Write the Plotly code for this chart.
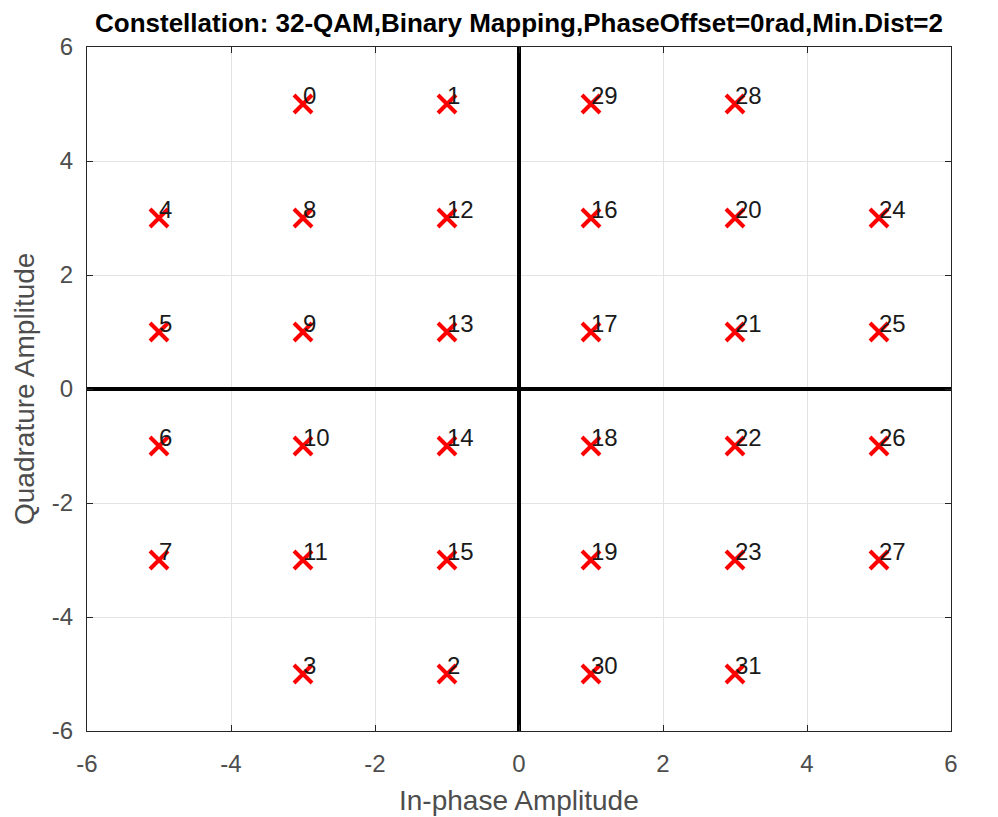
import plotly.graph_objects as go

symbol_index = list(range(32))
in_phase = [-3, -1, -1, -3, -5, -5, -5, -5, -3, -3, -3, -3, -1, -1, -1, -1,
            1, 1, 1, 1, 3, 3, 3, 3, 5, 5, 5, 5, 3, 1, 1, 3]
quadrature = [5, 5, -5, -5, 3, 1, -1, -3, 3, 1, -1, -3, 3, 1, -1, -3,
              3, 1, -1, -3, 3, 1, -1, -3, 3, 1, -1, -3, 5, 5, -5, -5]
tick_vals = [-6, -4, -2, 0, 2, 4, 6]
tick_text = ["-6", "-4", "-2", "0", "2", "4", "6"]

FONT = "Liberation Sans, Arial, Helvetica, sans-serif"
AX = "#262626"
LBL = "#4d4d4d"

fig = go.Figure()
fig.add_trace(go.Scatter(
    x=in_phase, y=quadrature, mode="markers",
    marker=dict(symbol="x-thin", size=18, line=dict(color="#ff0000", width=4)),
    showlegend=False, hoverinfo="skip"))

for i, x, y in zip(symbol_index, in_phase, quadrature):
    fig.add_annotation(x=x, y=y, text=str(i), showarrow=False,
                       xanchor="left", yanchor="middle", xshift=-2, yshift=9,
                       font=dict(family=FONT, size=24, color="#1a1a1a"))

axis_common = dict(
    range=[-6, 6], tickvals=tick_vals, ticktext=tick_text,
    ticks="inside", ticklen=6, tickcolor=AX,
    showgrid=True, gridcolor="#e3e3e3", gridwidth=1,
    zeroline=True, zerolinecolor="#000000", zerolinewidth=3.5,
    showline=True, linecolor=AX, linewidth=1, mirror="ticks",
    tickfont=dict(family=FONT, size=24, color=LBL),
)

fig.update_xaxes(**axis_common, ticklabelstandoff=11)
fig.update_yaxes(**axis_common, ticklabelstandoff=8)

fig.add_annotation(text="In-phase Amplitude", xref="paper", yref="paper",
                   x=0.5, y=0, xanchor="center", yanchor="middle", yshift=-69,
                   showarrow=False, font=dict(family=FONT, size=28, color=LBL))
fig.add_annotation(text="Quadrature Amplitude", xref="paper", yref="paper",
                   x=0, y=0.5, xanchor="center", yanchor="middle", xshift=-63,
                   textangle=-90, showarrow=False,
                   font=dict(family=FONT, size=28, color=LBL))

fig.update_layout(
    width=990, height=809, autosize=False,
    margin=dict(l=79, r=47, t=39, b=86),
    plot_bgcolor="white", paper_bgcolor="white",
    title=dict(text="<b>Constellation: 32-QAM,Binary Mapping,PhaseOffset=0rad,Min.Dist=2</b>",
               x=0.5, xanchor="center", xref="paper", y=1 - 15 / 809, yanchor="middle",
               font=dict(family=FONT, size=26, color="#000000")),
)

fig.write_html("out.html")
